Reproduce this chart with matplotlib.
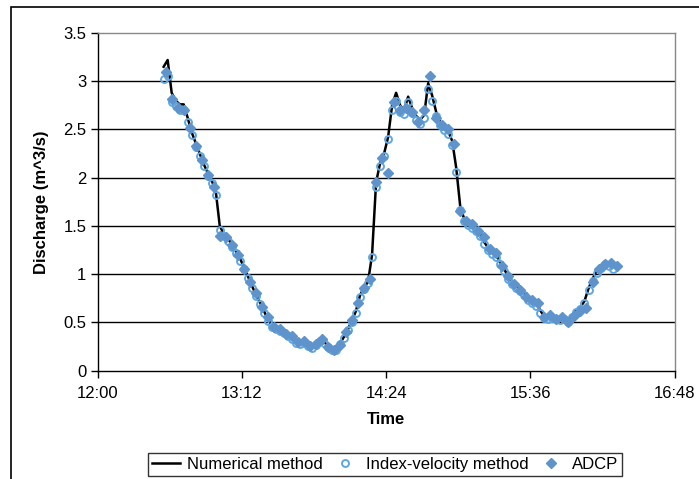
import numpy as np
import matplotlib
matplotlib.use("Agg")
import matplotlib.pyplot as plt
from matplotlib.patches import Rectangle

plt.rcParams['font.family'] = ['Liberation Sans', 'DejaVu Sans']

# time in minutes after 12:00
tick_labels = ["12:00", "13:12", "14:24", "15:36", "16:48"]
tick_minutes = [0, 72, 144, 216, 288]

# numerical method, sampled every 2 min from 12:33
num_time = np.arange(33, 258, 2)
num_q = [3.15, 3.22, 2.88, 2.80, 2.76, 2.76, 2.62, 2.47, 2.36,
         2.25, 2.14, 2.05, 1.97, 1.86, 1.50, 1.42, 1.37, 1.31,
         1.24, 1.17, 1.07, 0.98, 0.88, 0.79, 0.71, 0.62, 0.53,
         0.47, 0.44, 0.42, 0.40, 0.38, 0.35, 0.30, 0.28, 0.30,
         0.26, 0.24, 0.27, 0.32, 0.30, 0.25, 0.22, 0.22, 0.28,
         0.35, 0.43, 0.52, 0.62, 0.78, 0.86, 0.92, 1.20, 1.95,
         2.15, 2.25, 2.42, 2.75, 2.88, 2.75, 2.70, 2.84, 2.72,
         2.64, 2.60, 2.65, 2.98, 2.85, 2.68, 2.58, 2.52, 2.48,
         2.38, 2.10, 1.70, 1.57, 1.53, 1.50, 1.47, 1.42, 1.33,
         1.27, 1.23, 1.20, 1.12, 1.05, 0.97, 0.92, 0.88, 0.84,
         0.80, 0.75, 0.72, 0.69, 0.62, 0.56, 0.55, 0.56, 0.55,
         0.54, 0.55, 0.52, 0.58, 0.63, 0.66, 0.72, 0.85, 0.95,
         1.03, 1.08, 1.12, 1.10, 1.07]

# index-velocity method, same sampling
idx_time = np.arange(33, 258, 2)
idx_q = [3.02, 3.05, 2.78, 2.74, 2.70, 2.70, 2.58, 2.44, 2.32,
         2.22, 2.12, 2.02, 1.94, 1.82, 1.46, 1.40, 1.34, 1.28,
         1.22, 1.14, 1.05, 0.96, 0.86, 0.77, 0.69, 0.60, 0.51,
         0.45, 0.43, 0.41, 0.39, 0.36, 0.33, 0.29, 0.27, 0.29,
         0.25, 0.23, 0.26, 0.31, 0.29, 0.24, 0.21, 0.21, 0.27,
         0.34, 0.42, 0.50, 0.60, 0.76, 0.85, 0.91, 1.18, 1.90,
         2.12, 2.22, 2.40, 2.70, 2.80, 2.68, 2.66, 2.78, 2.67,
         2.60, 2.56, 2.62, 2.92, 2.80, 2.64, 2.55, 2.49, 2.45,
         2.34, 2.06, 1.66, 1.55, 1.51, 1.48, 1.45, 1.40, 1.31,
         1.25, 1.21, 1.18, 1.10, 1.03, 0.95, 0.90, 0.86, 0.82,
         0.78, 0.73, 0.70, 0.67, 0.60, 0.54, 0.53, 0.54, 0.53,
         0.52, 0.53, 0.50, 0.56, 0.61, 0.64, 0.70, 0.83, 0.93,
         1.01, 1.06, 1.10, 1.08, 1.05]

# ADCP measurements every 3 min from 12:34
adcp_time = np.arange(34, 260, 3)
adcp_q = [3.10, 2.82, 2.72, 2.70, 2.52, 2.33, 2.18, 2.03, 1.90, 1.40,
          1.38, 1.30, 1.20, 1.05, 0.92, 0.80, 0.66, 0.55, 0.45, 0.43,
          0.38, 0.36, 0.30, 0.31, 0.25, 0.28, 0.33, 0.24, 0.21, 0.26,
          0.40, 0.52, 0.70, 0.86, 0.95, 1.95, 2.20, 2.05, 2.78, 2.70,
          2.72, 2.68, 2.58, 2.70, 3.05, 2.62, 2.55, 2.50, 2.35, 1.65,
          1.55, 1.52, 1.45, 1.38, 1.26, 1.22, 1.08, 0.98, 0.90, 0.84,
          0.76, 0.73, 0.70, 0.55, 0.58, 0.53, 0.56, 0.50, 0.57, 0.62,
          0.65, 0.92, 1.05, 1.10, 1.12, 1.08]

fig = plt.figure(figsize=(6.99, 4.79), dpi=100)
ax = fig.add_axes([0.1395, 0.2265, 0.8257, 0.7046])

# outer chart frame
fig.patches.append(Rectangle((11 / 699, -0.05), 0.99, 1.05 - 7 / 479,
                             transform=fig.transFigure, fill=False,
                             edgecolor="black", linewidth=1.2))

for yv in np.arange(0.5, 3.5, 0.5):
    ax.axhline(yv, color="black", linewidth=1.0, zorder=1)

ax.plot(num_time, num_q, color="black", linewidth=1.8, zorder=3,
        label="Numerical method")
ax.plot(idx_time, idx_q, linestyle="none", marker="o", markersize=5,
        markerfacecolor="none", markeredgecolor="#5EA7E3",
        markeredgewidth=1.4, zorder=4, label="Index-velocity method")
ax.plot(adcp_time, adcp_q, linestyle="none", marker="D", markersize=5.5,
        color="#5E93CC", zorder=5, label="ADCP")

ax.set_xlim(0, 288)
ax.set_ylim(0, 3.5)
ax.set_xticks(tick_minutes)
ax.set_xticklabels(tick_labels)
ax.set_yticks(np.arange(0, 3.51, 0.5))
ax.set_yticklabels(["0", "0.5", "1", "1.5", "2", "2.5", "3", "3.5"])
ax.tick_params(axis="both", direction="out", length=5, width=1,
               labelsize=12, colors="black", pad=3)
ax.tick_params(axis="x", pad=6)

ax.spines["left"].set_color("black")
ax.spines["bottom"].set_color("black")
ax.spines["top"].set_color("#888888")
ax.spines["right"].set_color("#888888")
for s in ax.spines.values():
    s.set_linewidth(1.0)

ax.set_xlabel("Time", fontsize=12, fontweight="bold", labelpad=8)
ax.set_ylabel("Discharge (m^3/s)", fontsize=12, fontweight="bold", labelpad=10)

leg = fig.legend(loc="upper center", bbox_to_anchor=(385 / 699, 1 - 453 / 479),
                 ncol=3, frameon=True, fancybox=False, fontsize=12,
                 handlelength=1.7, columnspacing=0.5, handletextpad=0.4,
                 borderpad=0.25, borderaxespad=0)
leg.get_frame().set_edgecolor("black")
leg.get_frame().set_linewidth(1.0)

fig.savefig("out.png", dpi=100)
